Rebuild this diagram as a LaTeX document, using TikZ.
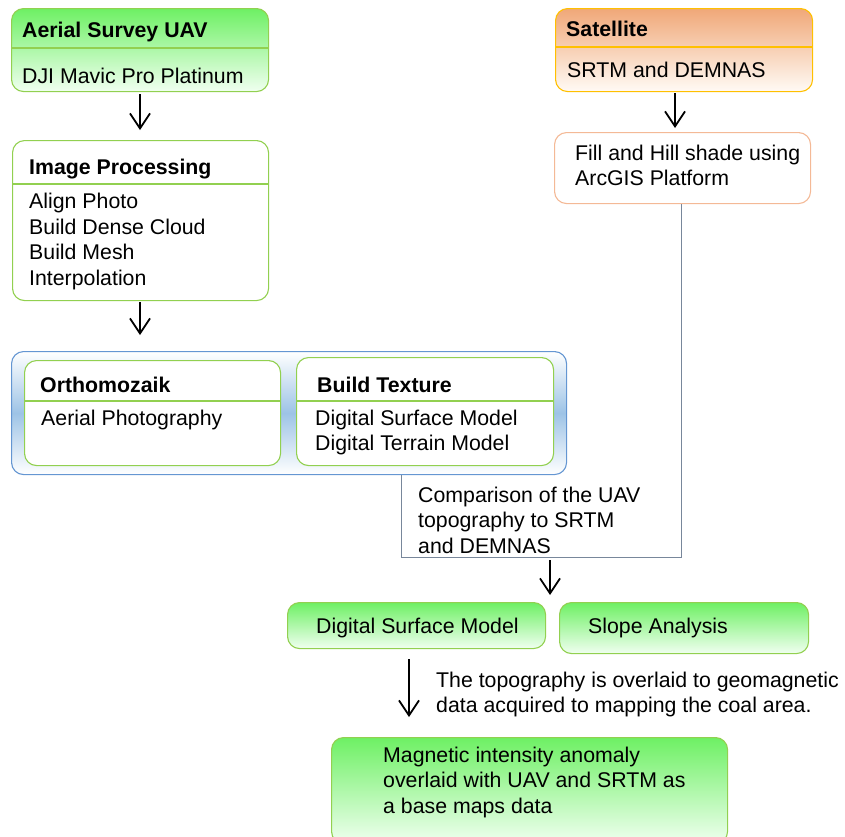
\documentclass[tikz,border=0pt]{standalone}
\usepackage{fontspec}
\setmainfont{Liberation Sans}
\usetikzlibrary{arrows.meta}
\definecolor{gtop}{RGB}{110,240,100}
\definecolor{gbot}{RGB}{240,255,240}
\definecolor{gborder}{RGB}{146,208,80}
\definecolor{otop}{RGB}{240,168,120}
\definecolor{obot}{RGB}{255,250,245}
\definecolor{oborder}{RGB}{255,192,0}
\definecolor{fborder}{RGB}{244,185,150}
\definecolor{bborder}{RGB}{100,150,210}
\definecolor{bmid}{RGB}{157,195,230}
\definecolor{cline}{RGB}{120,135,155}
\tikzset{
  txt/.style={font=\fontsize{21.3}{25.5}\selectfont, inner sep=0pt, anchor=base west, align=left},
  bold/.style={txt, font=\fontsize{21.3}{25.5}\selectfont\bfseries},
  boxbase/.style={draw, rounded corners=12pt, line width=1.1pt, anchor=north west, inner sep=0pt},
  greenhead/.style={boxbase, draw=gborder, top color=gtop, bottom color=gbot},
  whitegreen/.style={boxbase, draw=gborder, fill=white},
  orangehead/.style={boxbase, draw=oborder, top color=otop, bottom color=obot},
  whiteorange/.style={boxbase, draw=fborder, fill=white},
  bluebox/.style={boxbase, draw=bborder, top color=white, bottom color=white, middle color=bmid},
  arr/.style={-{Straight Barb[length=15pt,width=20pt,line width=1.8pt]}, line width=1.8pt},
  divg/.style={draw=gborder, line width=1.1pt},
  divo/.style={draw=oborder, line width=1.1pt},
}
\begin{document}
\begin{tikzpicture}[x=1pt,y=-1pt]
\useasboundingbox (0,0) rectangle (845,836);
% Aerial Survey UAV
\node[greenhead, minimum width=257pt, minimum height=83pt] (uav) at (11,8) {};
\draw[divg] (11,48) -- (268,48);
\node[bold] (uavt) at (22,37) {Aerial Survey UAV};
\node[txt] (uavs) at (22,83) {DJI Mavic Pro Platinum};
% Image Processing
\node[whitegreen, minimum width=256pt, minimum height=160pt] (img) at (12,140) {};
\draw[divg] (12,184) -- (268,184);
\node[bold] (imgt) at (29,174) {Image Processing};
\node[txt] (imgs) at (29,285) {Align Photo\\Build Dense Cloud\\Build Mesh\\Interpolation};
% Container
\node[bluebox, minimum width=555pt, minimum height=123pt] (cont) at (11,351) {};
\node[whitegreen, minimum width=256pt, minimum height=105pt] (orto) at (24,360) {};
\draw[divg] (24,401) -- (280,401);
\node[bold] (ortot) at (40,392) {Orthomozaik};
\node[txt] (ortos) at (41,425) {Aerial Photography};
\node[whitegreen, minimum width=257pt, minimum height=108pt] (tex) at (296,357) {};
\draw[divg] (296,401) -- (553,401);
\node[bold] (text) at (317,392) {Build Texture};
\node[txt] (texs) at (315,450.5) {Digital Surface Model\\Digital Terrain Model};
% Satellite
\node[orangehead, minimum width=257pt, minimum height=83pt] (sat) at (555,8) {};
\draw[divo] (555,47) -- (812,47);
\node[bold] (satt) at (566,36) {Satellite};
\node[txt] (sats) at (567,77) {SRTM and DEMNAS};
% Fill and hill
\node[whiteorange, minimum width=256pt, minimum height=71pt] (fill) at (554,132) {};
\node[txt] (fillt) at (575,185.5) {Fill and Hill shade using\\ArcGIS Platform};
% Comparison connector
\coordinate (c1) at (401,557);
\coordinate (c2) at (681,557);
\draw[cline, line width=1pt] (cont.south -| c1) -- (c1) -- (c2) -- (fill.south -| c2);
\node[txt] (comp) at (418,553) {Comparison of the UAV\\topography to SRTM\\and DEMNAS};
% DSM and slope
\node[greenhead, minimum width=258pt, minimum height=46pt] (dsm) at (287,602) {};
\node[txt] (dsmt) at (316,633) {Digital Surface Model};
\node[greenhead, minimum width=249pt, minimum height=51pt] (slope) at (559,602) {};
\node[txt] (slopet) at (588,633) {Slope Analysis};
% Magnetic
\node[greenhead, minimum width=396pt, minimum height=106pt] (mag) at (331,737) {};
\node[txt] (magt) at (383,813) {Magnetic intensity anomaly\\overlaid with UAV and SRTM as\\a base maps data};
\node[txt] (over) at (436,712.5) {The topography is overlaid to geomagnetic\\data acquired to mapping the coal area.};
% Arrows
\draw[arr] (uav.south -| 140,0) ++(0,2) -- ([yshift=10pt]img.north -| 140,0);
\draw[arr] (img.south -| 140,0) ++(0,1) -- ([yshift=16pt]cont.north -| 140,0);
\draw[arr] (sat.south -| 675,0) ++(0,1) -- ([yshift=4pt]fill.north -| 675,0);
\draw[arr] (c1 -| 550,0) ++(0,3) -- ([yshift=7pt]dsm.north -| 550,0);
\draw[arr] (dsm.south -| 409,0) ++(0,10) -- ([yshift=20pt]mag.north -| 409,0);
\end{tikzpicture}
\end{document}
